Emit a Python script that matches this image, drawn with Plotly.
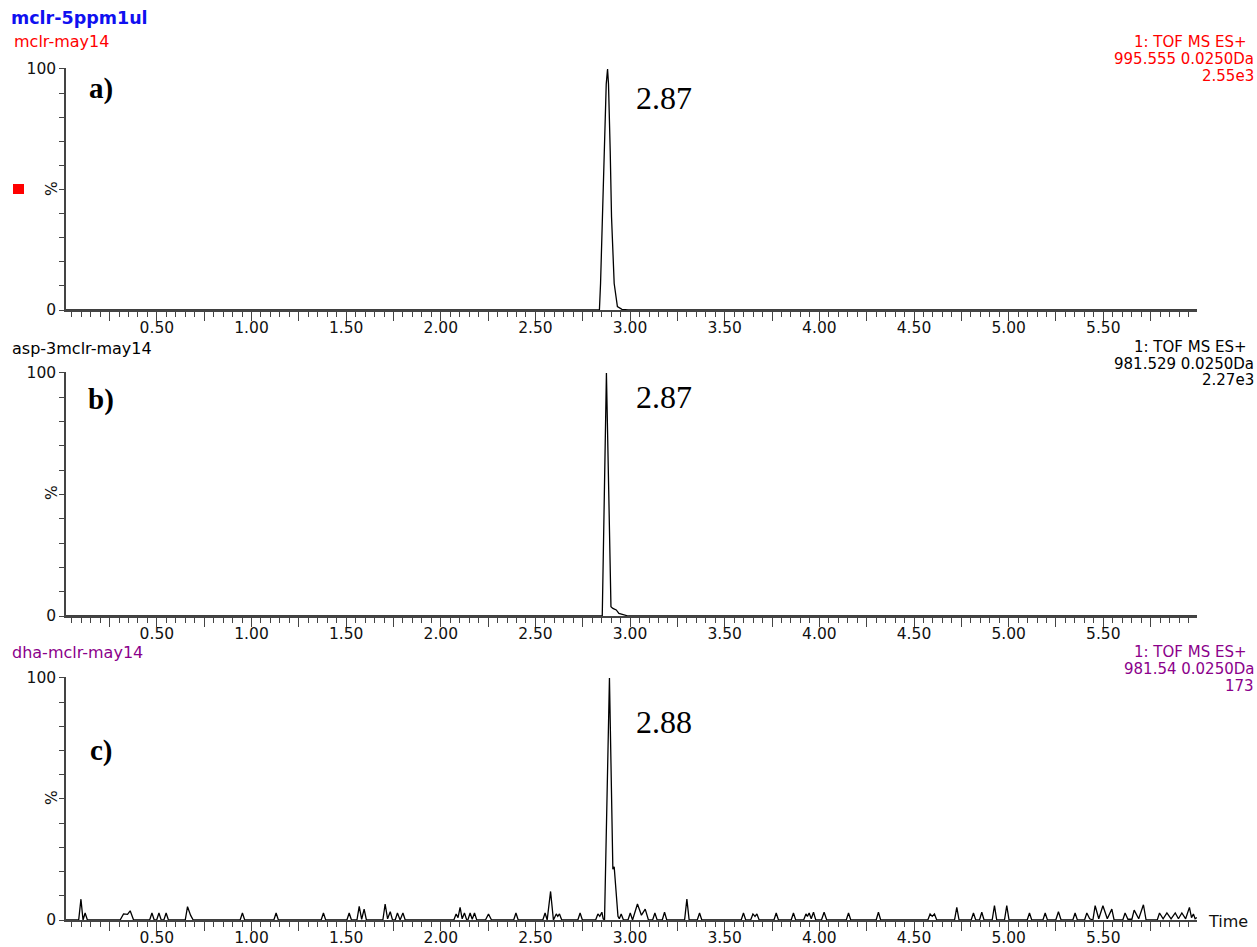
import plotly.graph_objects as go

# ---------------- data (retention time in min, intensity in %) ----------------
a_time = [0.02, 2.80, 2.838, 2.844, 2.853, 2.863, 2.874, 2.881, 2.886, 2.895, 2.902,
          2.916, 2.933, 2.957, 2.99, 5.995]
a_pct = [0, 0, 0, 11, 38.6, 66, 93.7, 100, 93.7, 66, 38.6, 11, 1.4, 0.3, 0, 0]

b_time = [0.02, 2.80, 2.853, 2.864, 2.875, 2.887, 2.899, 2.909, 2.927, 2.941, 2.965,
          2.99, 5.995]
b_pct = [0, 0, 0, 50, 100, 52, 3.8, 3.1, 2.5, 1.1, 0.4, 0, 0]

c_time = [0.020,
          0.087, 0.099, 0.110, 0.121, 0.133,
          0.306, 0.324, 0.345, 0.359, 0.377,
          0.462, 0.474, 0.486,
          0.499, 0.511, 0.523,
          0.537, 0.549, 0.561,
          0.650, 0.662, 0.678, 0.692,
          0.940, 0.952, 0.964,
          1.118, 1.130, 1.142,
          1.368, 1.380, 1.392,
          1.504, 1.516, 1.528,
          1.557, 1.569, 1.582, 1.595, 1.607,
          1.694, 1.706, 1.719, 1.733, 1.745,
          1.759, 1.771, 1.785, 1.800, 1.812,
          2.069, 2.081, 2.091, 2.102, 2.113, 2.125, 2.137,
          2.143, 2.155, 2.166, 2.178, 2.190,
          2.236, 2.252, 2.268,
          2.385, 2.397, 2.409,
          2.539, 2.551, 2.562, 2.580, 2.595, 2.610, 2.618, 2.627, 2.639,
          2.724, 2.736, 2.748,
          2.818, 2.830, 2.840, 2.851, 2.858, 2.865,
          2.891, 2.909, 2.916, 2.936, 2.943, 2.953, 2.965,
          2.989, 3.001, 3.013, 3.039, 3.060, 3.080, 3.097,
          3.119, 3.131, 3.143,
          3.170, 3.182, 3.194,
          3.288, 3.300, 3.312,
          3.355, 3.367, 3.379,
          3.587, 3.599, 3.611,
          3.637, 3.649, 3.660, 3.670, 3.682,
          3.760, 3.772, 3.784,
          3.851, 3.863, 3.875,
          3.917, 3.929, 3.937, 3.946, 3.957, 3.969, 3.981,
          4.011, 4.025, 4.039,
          4.142, 4.154, 4.166,
          4.300, 4.312, 4.324,
          4.573, 4.585, 4.596, 4.608, 4.620,
          4.714, 4.726, 4.738,
          4.802, 4.814, 4.826,
          4.846, 4.858, 4.870,
          4.913, 4.925, 4.937,
          4.978, 4.990, 5.002,
          5.098, 5.110, 5.122,
          5.181, 5.193, 5.205,
          5.249, 5.263, 5.277,
          5.339, 5.351, 5.363,
          5.401, 5.413, 5.428, 5.445, 5.457, 5.476, 5.498, 5.521, 5.545, 5.557,
          5.603, 5.615, 5.630, 5.651, 5.663, 5.687, 5.712, 5.726,
          5.785, 5.797, 5.816, 5.836, 5.858, 5.880, 5.897, 5.915, 5.935, 5.955,
          5.966, 5.976, 5.985, 5.994]
c_pct = [0,
         0, 8.6, 0, 2.9, 0,
         0, 2.5, 2.3, 3.8, 0,
         0, 2.9, 0,
         0, 2.9, 0,
         0, 2.9, 0,
         0, 5.5, 2.0, 0,
         0, 2.9, 0,
         0, 2.9, 0,
         0, 2.9, 0,
         0, 2.9, 0,
         0, 5.6, 0.3, 4.5, 0,
         0, 6.6, 0.5, 3.4, 0,
         0, 2.9, 0, 2.9, 0,
         0, 2.5, 1.0, 5.2, 0.5, 2.9, 0,
         0, 2.9, 0.3, 2.9, 0,
         0, 2.5, 0,
         0, 2.9, 0,
         0, 2.9, 0, 11.8, 0, 2.5, 1.5, 2.5, 0,
         0, 2.9, 0,
         0, 2.5, 1.5, 3.2, 0.5, 0,
         100, 21, 22, 1.5, 0.5, 2.5, 0,
         0, 2.9, 0, 6.6, 2.0, 4.5, 0,
         0, 2.9, 0,
         0, 3.2, 0,
         0, 8.6, 0,
         0, 2.9, 0,
         0, 2.9, 0,
         0, 2.5, 1.5, 2.5, 0,
         0, 2.9, 0,
         0, 2.9, 0,
         0, 2.5, 1.5, 2.9, 0.5, 3.2, 0,
         0, 3.2, 0,
         0, 2.9, 0,
         0, 3.2, 0,
         0, 2.5, 1.5, 2.5, 0,
         0, 5.2, 0,
         0, 2.9, 0,
         0, 3.2, 0,
         0, 5.9, 0,
         0, 5.9, 0,
         0, 2.9, 0,
         0, 2.9, 0,
         0, 3.4, 0,
         0, 2.9, 0,
         0, 2.9, 0.5, 0, 5.9, 0.5, 5.9, 0.5, 4.5, 0,
         0, 2.9, 0.3, 0.3, 4.1, 0.5, 6.3, 0,
         0, 2.9, 0.5, 2.9, 0.5, 2.9, 0.5, 2.9, 0.5, 5.2,
         1.0, 2.5, 0.5, 1.0]

x_tick_vals = [0.25, 0.50, 0.75, 1.00, 1.25, 1.50, 1.75, 2.00, 2.25, 2.50, 2.75,
               3.00, 3.25, 3.50, 3.75, 4.00, 4.25, 4.50, 4.75, 5.00, 5.25, 5.50, 5.75]
x_tick_text = ["", "0.50", "", "1.00", "", "1.50", "", "2.00", "", "2.50", "",
               "3.00", "", "3.50", "", "4.00", "", "4.50", "", "5.00", "", "5.50", ""]
y_tick_vals = [0, 100]
y_tick_text = ["0", "100"]

peak_labels = ["2.87", "2.87", "2.88"]
panel_tags = ["a)", "b)", "c)"]
sample_name = "mclr-5ppm1ul"
trace_names = ["mclr-may14", "asp-3mclr-may14", "dha-mclr-may14"]
trace_colors = ["#FF0000", "#000000", "#8B008B"]
info_line1 = ["1: TOF MS ES+", "1: TOF MS ES+", "1: TOF MS ES+"]
info_line2 = ["995.555 0.0250Da", "981.529 0.0250Da", "981.54 0.0250Da"]
info_line3 = ["2.55e3", "2.27e3", "173"]

# ---------------- layout helpers ----------------
W, H = 1257, 947
ML, MR, MT, MB = 66, 60, 68, 27
PW = W - ML - MR
PH = H - MT - MB


def px(x):
    return (x - ML) / PW


def py(y):
    return (H - MB - y) / PH


SANS = "DejaVu Sans, Verdana, sans-serif"
SERIF = "Liberation Serif, Times New Roman, serif"
AX = "#444444"

fig = go.Figure()
series = [(a_time, a_pct), (b_time, b_pct), (c_time, c_pct)]
for i, (t, v) in enumerate(series):
    sfx = "" if i == 0 else str(i + 1)
    fig.add_trace(go.Scatter(x=t, y=v, xaxis="x" + sfx, yaxis="y" + sfx,
                             mode="lines", line=dict(color="black", width=1.3),
                             hoverinfo="skip", showlegend=False))

# panel pixel rows: (top(100%), bottom(0%))
rows = [(68, 310), (372, 616), (677, 920)]
layout = dict(width=W, height=H, margin=dict(l=ML, r=MR, t=MT, b=MB, autoexpand=False),
              paper_bgcolor="white", plot_bgcolor="white", showlegend=False)
for i, (top, bot) in enumerate(rows):
    sfx = "" if i == 0 else str(i + 1)
    layout["xaxis" + sfx] = dict(
        domain=[0, 1], anchor="y" + sfx, range=[0.02, 5.995], automargin=False,
        showline=True, linecolor=AX, linewidth=1.5, showgrid=False, zeroline=False,
        tickmode="array", tickvals=x_tick_vals, ticktext=x_tick_text,
        ticks="outside", ticklen=9, tickwidth=1, tickcolor=AX, ticklabelstandoff=-6,
        minor=dict(tickmode="linear", tick0=0, dtick=0.05, ticks="outside",
                   ticklen=5, tickwidth=1, tickcolor=AX, showgrid=False),
        tickfont=dict(family=SANS, size=15.5, color="#111111"), fixedrange=True)
    layout["yaxis" + sfx] = dict(
        domain=[py(bot), py(top)], anchor="x" + sfx, range=[0, 100.4], automargin=False,
        showline=True, linecolor=AX, linewidth=1.5, showgrid=False, zeroline=False,
        tickmode="array", tickvals=y_tick_vals, ticktext=y_tick_text,
        ticks="outside", ticklen=5, tickwidth=1, tickcolor=AX,
        minor=dict(tickmode="linear", tick0=0, dtick=10, ticks="outside",
                   ticklen=5, tickwidth=1, tickcolor=AX, showgrid=False),
        tickfont=dict(family=SANS, size=15.5, color="#111111"), fixedrange=True)
fig.update_layout(**layout)

ann = []


def text(x, y, s, size=16, color="black", family=SANS, xa="left", bold=False, angle=0):
    if bold:
        s = "<b>" + s + "</b>"
    ann.append(dict(x=px(x), y=py(y), xref="paper", yref="paper", text=s,
                    showarrow=False, xanchor=xa, yanchor="middle", textangle=angle,
                    font=dict(family=family, size=size, color=color)))


text(9, 18, sample_name, size=17.5, color="#1010F0", bold=True)
name_y = [42, 348, 652]
info_y = [(42, 59, 76), (347, 364, 380), (652, 669, 686)]
tag_y = [88, 399, 750]
peak_y = [98, 397, 722]
pct_y = [189, 493, 798]
for i in range(3):
    col = trace_colors[i]
    text(10 if i else 12, name_y[i], trace_names[i], size=16, color=col)
    y1, y2, y3 = info_y[i]
    text(1249, y1, info_line1[i], size=15, color=col, xa="right")
    text(1256, y2, info_line2[i], size=15, color=col, xa="right")
    text(1256, y3, info_line3[i], size=15, color=col, xa="right")
    text(101, tag_y[i], panel_tags[i], size=29, family=SERIF, xa="center", bold=True)
    text(664, peak_y[i], peak_labels[i], size=32, family=SERIF, xa="center")
    text(52, pct_y[i], "%", size=15.5, color="#111111", xa="center", angle=-90)

text(1206, 921, "Time", size=16, color="#111111")

fig.update_layout(annotations=ann)
fig.add_shape(type="rect", xref="paper", yref="paper",
              x0=px(13), x1=px(24), y0=py(194), y1=py(184),
              fillcolor="#FF0000", line=dict(width=0))

fig.write_html("out.html", config={"displayModeBar": False},
               post_script="document.body.style.margin='0';"
                           "document.body.style.overflow='hidden';")
